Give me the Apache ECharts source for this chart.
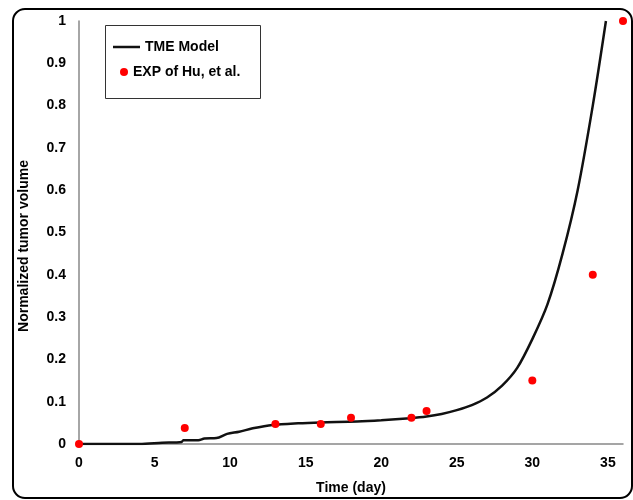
<!DOCTYPE html>
<html>
<head>
<meta charset="utf-8">
<script src="https://cdn.jsdelivr.net/npm/echarts@6/dist/echarts.min.js"></script>
<style>
  html, body { margin: 0; padding: 0; background: #fff; }
  #container { width: 633px; height: 500px; }
</style>
</head>
<body>
<div id="container"></div>
<script>
// 模型曲线 (day, normalized volume)
var modelDays = [0, 4, 5.5, 6.8, 6.9, 7.9, 8.3, 9.1, 9.8, 10.6, 11.5, 12.8, 14.5, 16, 18.4, 20, 21.9, 23, 24, 25, 26, 27, 28, 29, 30, 31, 32, 33, 34, 34.87];
var modelValues = [0, 0, 0.003, 0.005, 0.009, 0.009, 0.013, 0.014, 0.024, 0.029, 0.037, 0.045, 0.049, 0.051, 0.053, 0.056, 0.061, 0.065, 0.071, 0.08, 0.092, 0.11, 0.138, 0.18, 0.248, 0.33, 0.45, 0.6, 0.8, 1.0];

// 实验数据
var expDays = [0, 7, 13, 16, 18, 22, 23, 30, 34, 36];
var expValues = [0, 0.038, 0.047, 0.047, 0.062, 0.062, 0.078, 0.15, 0.4, 1.0];

function zip(a, b) {
    var r = [];
    for (var i = 0; i < a.length; i++) r.push([a[i], b[i]]);
    return r;
}

var font = 'Liberation Sans, Arial, sans-serif';
var myChart = echarts.init(document.getElementById('container'));
myChart.setOption({
    backgroundColor: '#fff',
    animation: false,
    grid: { left: 79, right: 10, top: 21, bottom: 56 },
    legend: [
        {
            data: [{ name: 'TME Model', icon: 'rect' }],
            left: 113, top: 40, padding: 0,
            itemWidth: 27, itemHeight: 2.5,
            textStyle: { fontFamily: font, fontWeight: 'bold', fontSize: 14, color: '#000' }
        },
        {
            data: [{ name: 'EXP of Hu, et al.', icon: 'circle' }],
            left: 120, top: 65, padding: 0,
            itemWidth: 8, itemHeight: 8,
            textStyle: { fontFamily: font, fontWeight: 'bold', fontSize: 14, color: '#000' }
        }
    ],
    graphic: [
        {
            type: 'rect',
            shape: { x: 13, y: 9, width: 619, height: 489, r: 12 },
            style: { fill: 'none', stroke: '#000', lineWidth: 2 },
            silent: true
        },
        {
            type: 'rect',
            shape: { x: 105.5, y: 25.5, width: 155, height: 73 },
            style: { fill: 'none', stroke: '#333', lineWidth: 1 },
            silent: true
        },
        {
            type: 'text',
            x: 24, y: 246, rotation: Math.PI / 2,
            style: {
                text: 'Normalized tumor volume',
                fontFamily: font, fontWeight: 'bold', fontSize: 14, fill: '#000',
                align: 'center', verticalAlign: 'middle'
            }
        }
    ],
    xAxis: {
        type: 'value',
        min: 0, max: 36, interval: 5,
        name: 'Time (day)',
        nameLocation: 'middle',
        nameGap: 37,
        nameTextStyle: { fontFamily: font, fontWeight: 'bold', fontSize: 14, color: '#000' },
        axisLine: { lineStyle: { color: '#888', width: 1.5 } },
        axisTick: { show: false },
        splitLine: { show: false },
        axisLabel: {
            margin: 12,
            fontFamily: font, fontWeight: 'bold', fontSize: 14, color: '#000',
            formatter: function (v) { return v % 5 === 0 ? String(v) : ''; }
        }
    },
    yAxis: {
        type: 'value',
        min: 0, max: 1, interval: 0.1,
        axisLine: { show: true, lineStyle: { color: '#888', width: 1.5 } },
        axisTick: { show: false },
        splitLine: { show: false },
        axisLabel: {
            margin: 13,
            fontFamily: font, fontWeight: 'bold', fontSize: 14, color: '#000',
            formatter: function (v) { return String(Math.round(v * 10) / 10); }
        }
    },
    series: [
        {
            name: 'TME Model',
            type: 'line',
            data: zip(modelDays, modelValues),
            showSymbol: false,
            symbol: 'none',
            smooth: 0.3,
            lineStyle: { color: '#111', width: 2.5 },
            itemStyle: { color: '#111' },
            z: 2
        },
        {
            name: 'EXP of Hu, et al.',
            type: 'scatter',
            data: zip(expDays, expValues),
            symbolSize: 8,
            itemStyle: { color: '#ff0000', opacity: 1 },
            clip: false,
            z: 3
        }
    ]
});
</script>
</body>
</html>
